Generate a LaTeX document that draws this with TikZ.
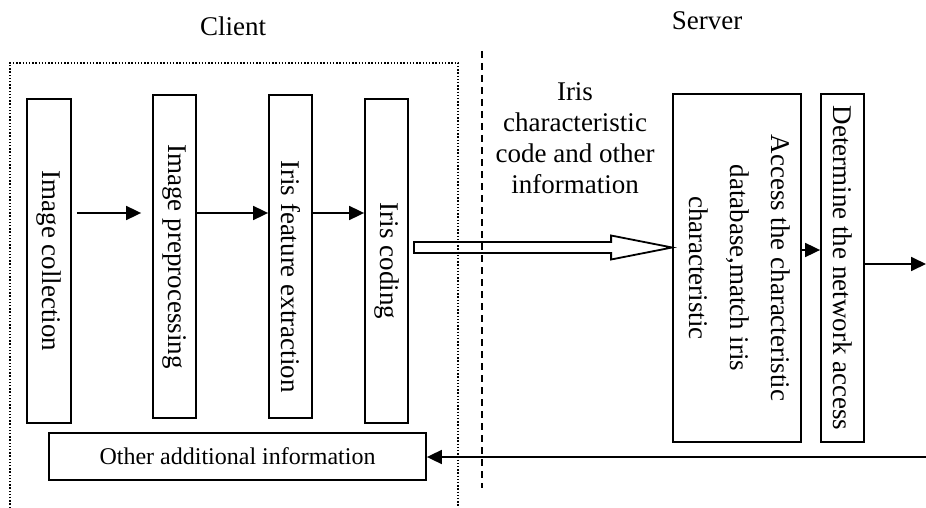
\documentclass[tikz,border=0pt]{standalone}
\usepackage{fontspec}
\setmainfont{Liberation Serif}
\usetikzlibrary{arrows.meta}
\usetikzlibrary{calc}

\newcommand{\vtext}[1]{\rotatebox{-90}{\fontsize{13.5pt}{16.5pt}\selectfont #1}}

\tikzset{
  box/.style={draw, line width=0.9pt, inner sep=0pt},
  flow/.style={line width=0.9pt, -{Triangle[length=7.5pt,width=7pt]}},
  caption/.style={font=\fontsize{13.5pt}{15.5pt}\selectfont},
}

\begin{document}
\begin{tikzpicture}[x=0.5pt, y=-0.5pt, font=\fontsize{12pt}{15pt}\selectfont]
                \useasboundingbox (0,0) rectangle (926,508);
                %client frame and divider
                \draw[line width=0.7pt, dash pattern=on 0.7pt off 0.9pt]
                        (10,508) -- (10,63) -- (458,63) -- (458,508);
                \draw[line width=0.8pt, dash pattern=on 3.5pt off 2.5pt] (482,51) -- (482,488);
                \node[caption] (client) at (233,26) {Client};
                \node[caption] (server) at (707,21) {Server};
                %client side
                \node[box, minimum width=22pt, minimum height=162pt] (col) at (49,261)
                        {\vtext{Image collection}};
                \node[box, minimum width=21.5pt, minimum height=161.5pt] (pre) at (174.5,256.5)
                        {\vtext{Image preprocessing}};
                \node[box, minimum width=21.5pt, minimum height=161.5pt] (fea) at (290.5,256.5)
                        {\vtext{\hspace{20pt}Iris feature extraction}};
                \node[box, minimum width=21.5pt, minimum height=162pt] (code) at (386.5,261)
                        {\vtext{Iris coding}};
                \node[box, minimum width=188.5pt, minimum height=23.5pt] (other) at (237.5,456.5)
                        {Other additional information};
                \draw[flow] ($(col.east |- 0,213)+(5,0)$) -- ($(pre.west |- 0,213)+(-11,0)$);
                \draw[flow] (pre.east |- 0,213) -- (fea.west |- 0,213);
                \draw[flow] (fea.east |- 0,213) -- (code.west |- 0,213);
                %server side
                \node[box, minimum width=64pt, minimum height=174pt] (acc) at (737,268)
                        {\vtext{\begin{tabular}{@{}c@{}}Access the characteristic\\[4pt]
                         database,match iris\\[4pt] characteristic\end{tabular}}};
                \node[box, minimum width=21.5pt, minimum height=174pt] (det) at (842.5,268)
                        {\vtext{Determine the network access}};
                \node[caption, align=center] (msg) at (575,138)
                        {Iris\\ characteristic\\ code and other\\ information};
                \draw[flow] (acc.east |- 0,250) -- (det.west |- 0,250);
                \coordinate (out) at (926,264);
                \coordinate (back) at (926,457);
                \draw[flow] (det.east |- out) -- (out);
                \draw[flow] (back) -- (other.east |- back);
                %hollow arrow to the server
                \coordinate (hs) at ($(code.east |- 0,247.5)+(5,0)$);
                \coordinate (he) at (acc.west |- 0,247.5);
                \draw[line width=0.9pt] ($(hs)+(0,-5.5)$) -- ($(he)+(-61,-5.5)$) -- ($(he)+(-61,-12)$)
                        -- (he) -- ($(he)+(-61,12)$) -- ($(he)+(-61,5.5)$) -- ($(hs)+(0,5.5)$) -- cycle;
            \end{tikzpicture}
\end{document}
